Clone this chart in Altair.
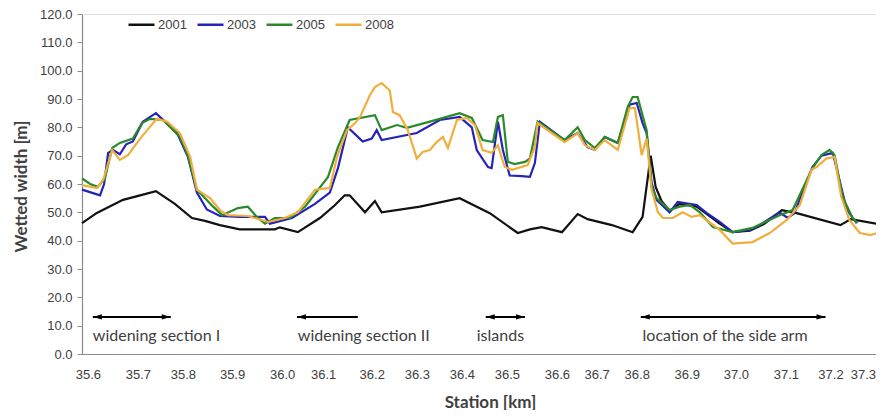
import json
import altair as alt
import pandas as pd

# ---- data: x = sample number along the reach (Excel category axis), y = wetted width [m]
years = ["2001", "2003", "2005", "2008"]
colors = ["#111111", "#2424b8", "#2a8a2a", "#f0ae3c"]

x_2001 = [0.0, 3.3, 9.1, 12.9, 16.4, 20.6, 24.4, 27.3, 30.6, 35.0, 42.8, 43.9, 47.9, 52.8, 56.1, 58.3,
          59.4, 62.8, 65.0, 66.5, 75.0, 83.8, 90.5, 96.7, 99.4, 102.0, 106.5, 110.0, 112.2, 117.6,
          122.2, 124.4, 126.2, 127.3, 128.6, 130.4, 132.6, 136.4, 138.6, 141.5, 144.4, 148.2, 151.5,
          155.3, 158.6, 168.3, 170.6, 176.2]
w_2001 = [46.2, 49.8, 54.4, 56.0, 57.5, 53.0, 48.0, 47.0, 45.5, 44.0, 44.0, 44.7, 43.0, 48.0, 52.5, 56.0,
          56.0, 50.0, 54.0, 50.0, 52.0, 55.0, 49.7, 42.7, 44.0, 44.8, 43.0, 49.4, 47.6, 45.5,
          43.0, 48.4, 70.0, 59.0, 54.0, 50.5, 53.0, 52.0, 49.5, 46.0, 43.0, 43.5, 46.0,
          50.8, 49.7, 45.5, 47.6, 46.0]

x_2003 = [0.0, 4.0, 4.9, 5.8, 6.9, 8.4, 9.8, 11.3, 13.5, 16.4, 18.4, 21.1, 23.5, 25.5, 27.7, 30.6, 35.0,
          40.6, 41.7, 46.6, 51.7, 55.0, 56.8, 59.0, 62.3, 64.3, 65.4, 66.5, 74.3, 79.4, 83.8, 86.5,
          87.6, 90.1, 90.9, 92.3, 93.4, 94.9, 97.6, 99.4, 100.5, 101.6, 107.1, 110.0, 112.2, 113.8,
          116.0, 118.9, 120.9, 121.5, 123.1, 124.4, 125.3, 126.4, 127.5, 130.4, 132.2, 136.4, 138.6,
          141.5, 144.4, 148.2, 150.4, 154.8, 156.6, 158.1, 162.1, 164.1, 166.6, 169.7, 171.9]
w_2003 = [58.0, 56.0, 60.0, 71.0, 72.0, 70.5, 74.0, 75.0, 82.0, 85.0, 82.0, 78.0, 69.6, 57.0, 51.0, 48.7, 48.4,
          48.4, 46.0, 48.0, 53.0, 57.0, 65.6, 80.0, 75.0, 76.0, 79.0, 75.5, 78.0, 82.6, 83.7, 80.0,
          72.0, 66.0, 65.6, 82.0, 72.0, 63.0, 62.8, 62.5, 67.4, 82.0, 75.5, 78.0, 73.0, 72.0,
          76.6, 74.5, 83.7, 88.0, 88.6, 81.5, 78.0, 60.4, 54.4, 50.0, 53.7, 52.6, 49.8,
          46.6, 43.0, 43.8, 45.5, 50.0, 48.0, 49.7, 66.0, 70.0, 71.0, 51.0, 46.2]

x_2005 = [0.0, 1.8, 3.5, 5.1, 6.7, 8.4, 11.3, 13.3, 15.1, 18.0, 21.7, 23.3, 25.5, 29.1, 31.1, 34.6, 36.8,
          38.8, 40.6, 42.8, 46.1, 49.5, 54.6, 56.8, 59.4, 65.0, 66.5, 69.9, 72.1, 77.2, 83.8, 86.5,
          88.9, 91.2, 92.3, 93.4, 94.5, 96.0, 98.3, 99.4, 101.1, 107.1, 110.0, 111.6, 113.8, 116.0,
          118.9, 121.1, 122.2, 123.3, 125.3, 126.4, 127.5, 130.4, 132.6, 134.9, 137.1, 140.0, 144.4,
          148.8, 154.8, 157.7, 162.1, 164.1, 165.9, 167.0, 168.8, 171.0, 172.1]
w_2005 = [62.0, 60.0, 59.0, 62.0, 72.7, 74.5, 76.0, 81.5, 83.0, 82.6, 76.6, 71.0, 58.0, 52.0, 49.0, 51.5, 52.0,
          48.4, 46.0, 48.0, 48.0, 52.0, 62.5, 73.0, 82.6, 84.3, 79.0, 80.8, 79.8, 82.0, 85.0, 83.3,
          75.5, 74.8, 83.7, 84.3, 67.8, 67.0, 67.8, 69.0, 82.0, 75.5, 80.0, 75.5, 72.7, 76.6,
          74.5, 87.2, 90.7, 90.7, 79.0, 59.0, 55.0, 50.8, 52.0, 52.6, 50.0, 44.8, 43.0,
          44.5, 49.0, 50.8, 65.6, 70.2, 72.0, 70.2, 55.4, 48.0, 46.2]

x_2008 = [0.0, 3.3, 4.7, 6.7, 8.4, 10.2, 12.9, 16.6, 18.9, 21.7, 24.0, 25.5, 28.4, 30.6, 32.4, 36.8, 41.3,
          45.0, 47.9, 51.7, 55.0, 56.6, 58.8, 60.6, 61.7, 63.9, 65.0, 66.5, 68.3, 69.0, 70.5, 72.3,
          74.3, 75.6, 77.2, 78.7, 80.1, 81.2, 83.2, 85.4, 87.2, 88.9, 90.9, 92.3, 93.8, 95.4, 98.9,
          100.5, 101.1, 107.1, 110.0, 111.6, 113.8, 116.0, 118.9, 121.5, 122.7, 124.2, 125.3, 126.4,
          127.8, 128.9, 131.1, 133.3, 135.3, 137.1, 141.5, 144.4, 148.8, 152.6, 156.4, 159.3, 161.9,
          163.0, 165.2, 167.0, 168.5, 170.3, 172.6, 175.0, 176.2]
w_2008 = [59.6, 58.6, 61.4, 72.0, 68.5, 70.2, 76.0, 83.0, 82.0, 78.0, 69.6, 58.0, 55.0, 50.8, 49.0, 48.7, 46.6,
          48.0, 50.0, 58.0, 58.6, 69.6, 79.0, 81.5, 83.7, 91.4, 94.2, 95.6, 93.0, 85.4, 84.3, 79.0,
          69.0, 71.3, 72.0, 74.8, 76.6, 72.7, 82.6, 83.3, 80.8, 72.0, 71.0, 73.7, 66.0, 65.0, 66.7,
          73.0, 81.5, 74.8, 78.0, 73.7, 72.0, 75.5, 72.0, 86.8, 86.8, 70.2, 76.0, 58.0,
          50.0, 48.0, 48.0, 50.0, 48.4, 49.0, 43.8, 39.0, 39.5, 42.7, 47.3, 52.6, 65.0,
          66.0, 69.0, 69.6, 55.4, 47.3, 42.7, 42.0, 42.6]

# station labels of the category axis and the sample number where each one sits
tick_pos = [1.3, 12.4, 22.4, 33.3, 44.4, 53.5, 64.3, 74.3, 84.3, 94.3, 105.4, 114.2, 123.1, 134.2,
            145.1, 156.2, 166.1, 175.0]
tick_km = ["35.6", "35.7", "35.8", "35.9", "36.0", "36.1", "36.2", "36.3", "36.4", "36.5", "36.6",
           "36.7", "36.8", "36.9", "37.0", "37.1", "37.2", "37.3"]
y_ticks = [0, 10, 20, 30, 40, 50, 60, 70, 80, 90, 100, 110, 120]

# annotations
ann_text = ["widening section I", "widening section II", "islands", "location of the side arm"]
ann_text_x = [2.4, 47.9, 87.6, 124.4]
ann_text_y = 6.4
arrow_x1 = [2.4, 47.7, 89.6, 124.0]
arrow_x2 = [19.7, 61.2, 98.3, 165.0]
arrow_right_head = [True, False, True, True]
arrow_y = 13.1

rows = []
for yr, xs, ws in zip(years, [x_2001, x_2003, x_2005, x_2008], [w_2001, w_2003, w_2005, w_2008]):
    for a, b in zip(xs, ws):
        rows.append({"year": yr, "idx": a, "width": b})
df = pd.DataFrame(rows)

arrows = pd.DataFrame({"idx": arrow_x1, "idx2": arrow_x2, "width": [arrow_y] * 4})
heads_left = pd.DataFrame({"idx": arrow_x1, "width": [arrow_y] * 4})
heads_right = pd.DataFrame({"idx": [b for b, r in zip(arrow_x2, arrow_right_head) if r],
                            "width": [arrow_y] * sum(arrow_right_head)})
texts = pd.DataFrame({"idx": ann_text_x, "width": [ann_text_y] * 4, "label": ann_text})

label_expr = "%s[indexof(%s, datum.value)]" % (json.dumps(tick_km), json.dumps(tick_pos))
last_tick_test = "datum.value >= %s" % tick_pos[-1]

axis_color = "#8c8c8c"
text_color = "#404040"

x_enc = alt.X(
    "idx:Q",
    scale=alt.Scale(domain=[0, 176.2], nice=False, zero=False),
    axis=alt.Axis(
        values=tick_pos, labelExpr=label_expr, ticks=False, grid=False,
        domainColor=axis_color, domainWidth=1.2,
        labelFont="Liberation Sans", labelFontSize=13, labelColor=text_color,
        labelPadding=14, labelFlush=False, labelOverlap=False,
        labelAlign={"condition": {"test": last_tick_test, "value": "right"}, "value": "center"},
        labelOffset={"condition": {"test": last_tick_test, "value": 5}, "value": 0},
        title="Station [km]", titleFont="Lato", titleFontSize=17, titleFontWeight="bold",
        titleColor=text_color, titleX=408, titleY=48, titleBaseline="middle", titleAlign="center",
    ),
)
y_enc = alt.Y(
    "width:Q",
    scale=alt.Scale(domain=[0, 120], nice=False),
    axis=alt.Axis(
        values=y_ticks, format=".1f", grid=False,
        domainColor=axis_color, domainWidth=1.2, tickColor=axis_color, tickSize=5,
        labelFont="Liberation Sans", labelFontSize=13, labelColor=text_color, labelPadding=5,
        title="Wetted width [m]", titleFont="Lato", titleFontSize=17, titleFontWeight="bold",
        titleColor=text_color, titleAngle=-90, titleX=-61, titleY=172,
        titleBaseline="middle", titleAlign="center",
    ),
)

lines = alt.Chart(df).mark_line(strokeWidth=2.2).encode(
    x=x_enc,
    y=y_enc,
    color=alt.Color(
        "year:N",
        scale=alt.Scale(domain=years, range=colors),
        legend=alt.Legend(
            title=None, orient="none", legendX=45, legendY=-4, direction="horizontal",
            symbolType="stroke", symbolSize=676, symbolStrokeWidth=2.5,
            labelFont="Liberation Sans", labelFontSize=13, labelColor=text_color,
            labelOffset=2, columnPadding=5,
        ),
    ),
    order=alt.Order("idx:Q"),
)

arrow_lines = alt.Chart(arrows).mark_rule(color="black", strokeWidth=2).encode(
    x=x_enc, x2="idx2:Q", y=y_enc
)
left_heads = alt.Chart(heads_left).mark_point(
    shape="M 0 0 L 2 -0.6 L 2 0.6 Z", filled=True, size=81, color="black", opacity=1
).encode(x=x_enc, y=y_enc)
right_heads = alt.Chart(heads_right).mark_point(
    shape="M 0 0 L -2 -0.6 L -2 0.6 Z", filled=True, size=81, color="black", opacity=1
).encode(x=x_enc, y=y_enc)
labels = alt.Chart(texts).mark_text(
    align="left", baseline="middle", font="Lato", fontSize=16, color=text_color
).encode(x=x_enc, y=y_enc, text="label:N")

chart = alt.layer(lines, arrow_lines, left_heads, right_heads, labels).properties(
    width=794,
    height=340,
    padding={"left": 74, "top": 6, "right": 0, "bottom": 56},
    autosize=alt.AutoSizeParams(type="none"),
).configure_view(stroke=None).configure(background="white")

chart.save("out.html", embed_options={"renderer": "svg", "actions": False})
